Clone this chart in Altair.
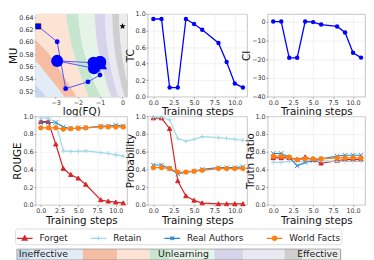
import altair as alt
import pandas as pd

FONT = "DejaVu Sans"

# ---------------- data ----------------
steps = [0, 1, 2, 3, 4, 5, 6, 8, 9, 10, 11]

# trajectory panel (log FQ vs MU)
traj_log_fq = [-3.78, -2.93, -2.55, -1.55, -1.01, -1.00, -1.30, -2.93, -1.28, -1.02, -0.96]
traj_mu = [0.625, 0.600, 0.524, 0.535, 0.546, 0.567, 0.566, 0.569, 0.557, 0.567, 0.564]
traj_big = [0, 0, 0, 0, 0, 1, 1, 1, 1, 1, 1]
star_log_fq = [0.0]
star_mu = [0.625]

tc_values = [0.94, 0.94, 0.11, 0.11, 0.94, 0.88, 0.81, 0.65, 0.42, 0.16, 0.11]
ci_values = [0.0, 0.0, -19.3, -19.3, 0.0, -0.3, -1.6, -2.6, -5.8, -16.6, -19.2]

series_names = ["Forget", "Retain", "Real Authors", "World Facts"]

rouge_forget = [0.94, 0.94, 0.685, 0.41, 0.34, 0.30, 0.23, 0.055, 0.04, 0.03, 0.02]
rouge_retain = [0.98, 0.98, 0.93, 0.61, 0.605, 0.605, 0.61, 0.59, 0.58, 0.565, 0.55]
rouge_real = [0.93, 0.93, 0.93, 0.88, 0.86, 0.87, 0.87, 0.89, 0.89, 0.90, 0.89]
rouge_world = [0.87, 0.87, 0.87, 0.855, 0.86, 0.865, 0.87, 0.88, 0.88, 0.88, 0.88]

prob_forget = [0.98, 0.98, 0.86, 0.27, 0.10, 0.05, 0.02, 0.01, 0.01, 0.01, 0.01]
prob_retain = [0.99, 0.99, 0.96, 0.75, 0.72, 0.74, 0.77, 0.76, 0.75, 0.74, 0.73]
prob_real = [0.45, 0.45, 0.41, 0.35, 0.37, 0.38, 0.40, 0.42, 0.42, 0.42, 0.43]
prob_world = [0.42, 0.42, 0.41, 0.37, 0.37, 0.38, 0.39, 0.41, 0.41, 0.41, 0.41]

tr_forget = [0.53, 0.53, 0.53, 0.51, 0.54, 0.51, 0.47, 0.50, 0.51, 0.51, 0.51]
tr_retain = [0.48, 0.48, 0.49, 0.49, 0.49, 0.50, 0.50, 0.49, 0.49, 0.49, 0.49]
tr_real = [0.58, 0.58, 0.54, 0.44, 0.48, 0.50, 0.52, 0.55, 0.56, 0.56, 0.56]
tr_world = [0.55, 0.55, 0.54, 0.51, 0.52, 0.52, 0.52, 0.53, 0.53, 0.53, 0.53]

# background regions of the trajectory panel: boundary log FQ at each MU level
bg_mu_levels = [0.505, 0.525, 0.545, 0.565, 0.585, 0.605, 0.625, 0.650]
bg_b1 = [-3.30, -3.75, -4.40, -5.50, -6.00, -6.00, -6.00, -6.00]
bg_b2 = [-2.50, -2.90, -3.35, -3.80, -4.40, -5.50, -6.00, -6.00]
bg_b3 = [-1.95, -2.30, -2.65, -3.00, -3.40, -3.95, -4.60, -5.50]
bg_b4 = [-1.45, -1.68, -1.88, -2.06, -2.22, -2.36, -2.46, -2.56]
bg_b5 = [-0.85, -1.15, -1.38, -1.57, -1.73, -1.85, -1.93, -1.99]
bg_b6 = [-0.44, -0.65, -0.82, -0.96, -1.08, -1.17, -1.22, -1.25]
bg_b7 = [-0.13, -0.30, -0.44, -0.56, -0.65, -0.72, -0.76, -0.78]
bg_b8 = [0.14, -0.02, -0.15, -0.26, -0.35, -0.41, -0.45, -0.47]
bg_b9 = [0.45, 0.28, 0.15, 0.05, -0.04, -0.10, -0.14, -0.16]
bg_left_end = [-6.0] * 8
bg_right_end = [2.0] * 8

band_ids = ["b0", "b1", "b2", "b3", "b4", "b5", "b6", "b7", "b8", "b9"]
band_colors = ["#c4d9ed", "#e2ecf7", "#f6bda3", "#fde3d4", "#c7e6cf",
               "#e6f4e8", "#d5d4eb", "#e9e8f3", "#cfcfcf", "#ececec"]

# colour bar segments (score scale 0..1)
cbar_start = [0.0, 0.04, 0.204, 0.31, 0.41, 0.47, 0.61, 0.70, 0.827, 0.882]
cbar_end = [0.04, 0.204, 0.31, 0.41, 0.47, 0.61, 0.70, 0.827, 0.882, 1.0]
cbar_texts = ["Ineffective", "Unlearning", "Effective"]
cbar_text_pos = [0.006, 0.515, 0.992]

# ---------------- tables ----------------
traj = pd.DataFrame({"step": steps, "fq": traj_log_fq, "mu": traj_mu, "big": traj_big})
star = pd.DataFrame({"fq": star_log_fq, "mu": star_mu})

bounds = [bg_left_end, bg_b1, bg_b2, bg_b3, bg_b4, bg_b5, bg_b6, bg_b7, bg_b8, bg_b9, bg_right_end]
bg_rows = []
for i in range(10):
    for j, m in enumerate(bg_mu_levels):
        bg_rows.append({"band": band_ids[i], "mu": m, "fq": bounds[i][j], "right": bounds[i + 1][j]})
bg = pd.DataFrame(bg_rows)

topm = pd.DataFrame({"step": steps, "TC": tc_values, "CI": ci_values})

metric_rows = []
for metric, lists in [("ROUGE", [rouge_forget, rouge_retain, rouge_real, rouge_world]),
                      ("Probability", [prob_forget, prob_retain, prob_real, prob_world]),
                      ("Truth Ratio", [tr_forget, tr_retain, tr_real, tr_world])]:
    for s, vals in zip(series_names, lists):
        for st, v in zip(steps, vals):
            metric_rows.append({"metric": metric, "series": s, "step": st, "value": v})
metrics = pd.DataFrame(metric_rows)

cbar = pd.DataFrame({"band": band_ids, "start": cbar_start, "end": cbar_end})
cbar_lab = pd.DataFrame({"text": cbar_texts, "pos": cbar_text_pos})
legend_df = pd.DataFrame({"series": series_names})

# ---------------- styles ----------------
MINUS = "replace(datum.label, '-', '\u2212')"
series_colors = ["#d62728", "#9fd8ea", "#2f86d0", "#ff7f0e"]
series_shapes = ["M0,-1L1,0.8L-1,0.8Z", "M-1,0L1,0M0,-1L0,1",
                 "M-1,-1L1,1M-1,1L1,-1", "circle"]
legend_shapes = ["M-1,0L1,0M0,-0.32L0.3,0.22L-0.3,0.22Z",
                 "M-1,0L1,0M0,-0.28L0,0.28",
                 "M-1,0L1,0M-0.22,-0.22L0.22,0.22M-0.22,0.22L0.22,-0.22",
                 "M-1,0L1,0M0.28,0A0.28,0.28 0 1,1 -0.28,0A0.28,0.28 0 1,1 0.28,0Z"]

color_scale = alt.Scale(domain=series_names, range=series_colors)
shape_scale = alt.Scale(domain=series_names, range=series_shapes)
lshape_scale = alt.Scale(domain=series_names, range=legend_shapes)
fill_scale = alt.Scale(domain=band_ids, range=band_colors)


def axis(title, values, fmt, **kw):
    return alt.Axis(title=title, values=values, format=fmt, labelExpr=MINUS,
                    labelOverlap=False, labelFlush=False, labelBound=False, **kw)


step_scale = alt.Scale(domain=[-0.7, 11.5], nice=False, zero=False)
step_axis = axis("Training steps", [0, 2.5, 5, 7.5, 10], ".1f", titlePadding=1.5)

W = [93, 101, 99]
H = [84, 90]

# ---------------- panel 1 ----------------
xs1 = alt.Scale(domain=[-3.9, 0.2], nice=False, zero=False)
ys1 = alt.Scale(domain=[0.511, 0.645], nice=False, zero=False)
ax1 = axis("log(FQ)", [-3, -2, -1, 0], "d", gridColor="white", gridOpacity=0.5, titlePadding=1.5)
ay1 = axis("MU", [0.52, 0.54, 0.56, 0.58, 0.60, 0.62, 0.64], ".2f", gridColor="white", gridOpacity=0.5)
X1 = alt.X("fq:Q", scale=xs1, axis=ax1)
Y1 = alt.Y("mu:Q", scale=ys1, axis=ay1)

bg_layer = alt.Chart(bg).mark_area(orient="horizontal", clip=True, interpolate="monotone").encode(
    y=Y1, x=X1, x2="right:Q",
    fill=alt.Fill("band:N", scale=fill_scale, legend=None),
    detail="band:N",
)
path = alt.Chart(traj).mark_line(color="#3a3aff", strokeWidth=1, opacity=0.85).encode(
    x=X1, y=Y1, order="step:Q")
mid = alt.Chart(traj).transform_filter("datum.step > 0 && datum.step < 11").mark_circle(
    color="#0000ff", opacity=1).encode(
    x=X1, y=Y1,
    size=alt.Size("big:Q", scale=alt.Scale(domain=[0, 1], range=[24, 150]), legend=None))
first = alt.Chart(traj).transform_filter("datum.step == 0").mark_point(
    shape="square", filled=True, color="#0000ff", size=28, opacity=1, stroke="black", strokeWidth=0.6).encode(
    x=X1, y=Y1)
last = alt.Chart(traj).transform_filter("datum.step == 11").mark_point(
    shape="triangle-up", filled=True, color="#0000ff", size=150, opacity=1).encode(
    x=X1, y=Y1)
star_layer = alt.Chart(star).mark_point(
    shape="M0,-1L0.235,-0.324L0.951,-0.309L0.380,0.124L0.588,0.809L0,0.4L-0.588,0.809L-0.380,0.124L-0.951,-0.309L-0.235,-0.324Z",
    filled=True, color="black", size=45, opacity=1).encode(
    x=X1, y=Y1)
p1 = alt.layer(bg_layer, path, mid, first, last, star_layer).properties(width=W[0], height=H[0])

# ---------------- panels 2, 3 ----------------
def top_panel(field, domain, values, fmt, width):
    ys = alt.Scale(domain=domain, nice=False, zero=False)
    X = alt.X("step:Q", scale=step_scale, axis=step_axis)
    Y = alt.Y(field + ":Q", scale=ys, axis=axis(field, values, fmt))
    line = alt.Chart(topm).mark_line(color="#0000ff", strokeWidth=1.3).encode(x=X, y=Y)
    pts = alt.Chart(topm).mark_circle(color="#0000ff", size=20, opacity=1).encode(x=X, y=Y)
    return alt.layer(line, pts).properties(width=width, height=H[0])

p2 = top_panel("TC", [0, 1], [0, 0.2, 0.4, 0.6, 0.8, 1.0], ".1f", W[1])
p3 = top_panel("CI", [-40, 4], [-40, -30, -20, -10, 0], "d", W[2])

# ---------------- bottom panels ----------------
def bottom_panel(metric, width):
    ys = alt.Scale(domain=[0, 1], nice=False, zero=False)
    X = alt.X("step:Q", scale=step_scale, axis=step_axis)
    Y = alt.Y("value:Q", scale=ys, axis=axis(metric, [0, 0.2, 0.4, 0.6, 0.8, 1.0], ".1f"))
    data = alt.Chart(metrics).transform_filter(alt.datum.metric == metric)
    line = data.mark_line(strokeWidth=1.2).encode(
        x=X, y=Y,
        color=alt.Color("series:N", scale=color_scale, legend=None),
        detail="series:N")
    pts = data.mark_point(filled=False, size=20, strokeWidth=1, opacity=1).encode(
        x=X, y=Y,
        color=alt.Color("series:N", scale=color_scale, legend=None),
        fill=alt.Fill("series:N", scale=color_scale, legend=None),
        shape=alt.Shape("series:N", scale=shape_scale, legend=None))
    return alt.layer(line, pts).properties(width=width, height=H[1])

p4 = bottom_panel("ROUGE", W[0])
p5 = bottom_panel("Probability", W[1])
p6 = bottom_panel("Truth Ratio", W[2])

grid = alt.concat(p1, p2, p3, p4, p5, p6, columns=3, spacing={"row": 20, "column": 21},
                  bounds="flush", align="each").resolve_scale(fill="independent")

# ---------------- colour bar + legend ----------------
cx = alt.Scale(domain=[0.0577, 1.0], nice=False, zero=False)
cbar_rects = alt.Chart(cbar).mark_rect().encode(
    x=alt.X("start:Q", scale=cx, axis=None), x2="end:Q",
    color=alt.Color("band:N", scale=fill_scale, legend=None))
cbar_border = alt.Chart(cbar).mark_rect(fill=None, stroke="#9a9a9a", strokeWidth=0.8).encode(
    x=alt.X("min(start):Q", scale=cx, axis=None), x2="max(end):Q")
text_layers = []
for t, al in zip(cbar_texts, ["left", "center", "right"]):
    text_layers.append(
        alt.Chart(cbar_lab).transform_filter(alt.datum.text == t).mark_text(
            fontSize=9.5, font=FONT, color="#222", baseline="middle", align=al).encode(
            x=alt.X("pos:Q", scale=cx, axis=None), y=alt.value(5.5), text="text:N"))

leg = alt.Legend(
    orient="none", legendX=-21, legendY=-21, direction="horizontal", columns=4, title=None,
    symbolSize=256, symbolStrokeWidth=1.3, labelFontSize=9, labelFont=FONT, labelColor="#222",
    columnPadding=20, labelOffset=6, padding=1, strokeColor="#dcdcdc", fillColor="white",
    cornerRadius=3)
legend_layer = alt.Chart(legend_df).mark_point(clip=True, filled=False, size=20, opacity=1).encode(
    x=alt.value(-200), y=alt.value(-200),
    stroke=alt.Stroke("series:N", scale=color_scale, legend=leg),
    fill=alt.Fill("series:N", scale=color_scale, legend=leg),
    shape=alt.Shape("series:N", scale=lshape_scale, legend=leg))

cbar_chart = alt.layer(cbar_rects, cbar_border, *text_layers, legend_layer).properties(width=310, height=11)

chart = alt.vconcat(grid, cbar_chart, spacing=1, bounds="full").resolve_scale(
    color="independent", fill="independent", shape="independent", stroke="independent"
).configure(font=FONT, padding=0).configure_view(stroke="#b5b5b5", strokeWidth=0.8).configure_axis(
    labelFontSize=6.5, labelFont=FONT, titleFontSize=10.5, titleFont=FONT, titleFontWeight="normal",
    labelColor="#333", titleColor="#111", gridColor="#e8e8e8", gridWidth=0.6,
    domain=False, tickSize=1.5, tickColor="#555", tickWidth=0.6, labelPadding=1, titlePadding=0,
)

chart.save("out.html", embed_options={"renderer": "svg", "actions": False})
